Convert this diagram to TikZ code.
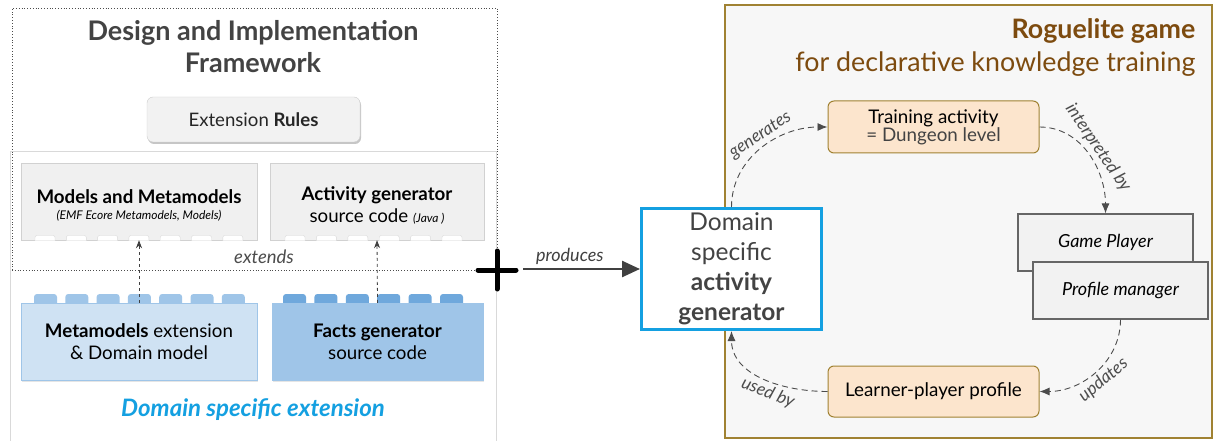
\documentclass[tikz,border=0pt]{standalone}
\usepackage{fontspec}
\setmainfont{Lato}
\usetikzlibrary{arrows.meta,shadows}

\definecolor{dsblue}{RGB}{20,160,225}
\definecolor{lightblue}{RGB}{207,226,243}
\definecolor{midblue}{RGB}{159,197,232}
\definecolor{darkblue}{RGB}{111,168,220}
\definecolor{peach}{RGB}{252,229,205}
\definecolor{olive}{RGB}{160,130,50}
\definecolor{rogue}{RGB}{125,75,15}
\definecolor{txtgray}{RGB}{67,67,67}

\begin{document}
\begin{tikzpicture}[
  graybrick/.style={draw=black!18, fill=black!6, minimum width=236pt,
    minimum height=77pt, align=center, inner sep=0pt},
  bluebrick/.style={draw=midblue, minimum width=236pt, minimum height=77pt,
    align=center, inner sep=0pt, drop shadow={opacity=0.2,shadow xshift=1pt,shadow yshift=-1.5pt}},
  notch/.style={fill=white, draw=black!15, rounded corners=2pt},
  stud/.style={rounded corners=3pt},
  gamebox/.style={draw=olive, fill=peach, rounded corners=6pt, line width=1pt,
    minimum width=211pt, minimum height=52pt, align=center,
    font=\fontsize{18.8}{21}\selectfont},
  partbox/.style={draw=black!60, fill=black!5, line width=1.2pt,
    minimum width=175pt, minimum height=57pt, font=\fontsize{18}{21}\selectfont\itshape},
  flow/.style={draw=black!70, line width=0.9pt, dash pattern=on 6pt off 4pt,
    -{Latex[length=10pt,width=8pt]}},
  flowlabel/.style={sloped, text=black!70, font=\fontsize{17.5}{20}\selectfont\itshape}
]
  \useasboundingbox (0pt,0pt) rectangle (1213pt,-441pt);

  %% framework panels
  \draw[black!15, fill=white] (10pt,-151pt) rectangle (496pt,-445pt);
  \draw[dotted, thick, black!70] (12pt,-270pt) -- (12pt,-8pt) -- (497pt,-8pt) -- (497pt,-270pt);
  \draw[dotted, thick, black!70] (12pt,-270pt) -- (497pt,-270pt);

  \node[text=txtgray, align=center, font=\fontsize{27}{32}\selectfont\bfseries]
    (title) at (253pt,-47pt) {Design and Implementation\\Framework};

  \node[draw=black!20, fill=black!5, rounded corners=6pt, minimum width=213pt,
    minimum height=45pt, drop shadow={opacity=0.45,shadow xshift=1pt,shadow yshift=-2pt},
    font=\fontsize{18.6}{21}\selectfont, text=black!85]
    (rules) at (253.5pt,-119.5pt) {Extension \textbf{Rules}};

  %% framework bricks
  \node[graybrick] (mm) at (139pt,-201.5pt) {};
  \node[align=center, font=\fontsize{18.7}{22}\selectfont] (mmtext) at (139pt,-205pt)
    {\textbf{Models and Metamodels}\\[-6pt]
     {\fontsize{12}{14}\selectfont\itshape (EMF Ecore Metamodels, Models)}};
  \node[graybrick, minimum width=214pt] (act) at (377pt,-201.5pt) {};
  \node[align=center, font=\fontsize{18.7}{22}\selectfont] (acttext) at (377pt,-205pt)
    {\textbf{Activity generator}\\source code {\fontsize{12}{14}\selectfont\itshape (Java )}};
  \foreach \x in {35,66.3,97.6,128.9,160.2,191.5,222.8}
    \draw[notch] (\x pt,-240.5pt) -- ++(0pt,5pt) -- ++(20pt,0pt) -- ++(0pt,-5pt);
  \foreach \x in {285,316.4,347.8,379.2,410.6,442}
    \draw[notch] (\x pt,-240.5pt) -- ++(0pt,5pt) -- ++(20pt,0pt) -- ++(0pt,-5pt);

  %% extension bricks
  \foreach \x in {34,65.3,96.6,127.9,159.2,190.5,221.8}
    \fill[stud, midblue] (\x pt,-294pt) rectangle ++(23pt,-14pt);
  \foreach \x in {283,314.4,345.8,377.2,408.6,440}
    \fill[stud, darkblue] (\x pt,-294pt) rectangle ++(23pt,-14pt);
  \node[bluebrick, fill=lightblue] (mme) at (139pt,-341.5pt) {};
  \node[bluebrick, fill=midblue, minimum width=211pt] (fg) at (377.5pt,-341.5pt) {};
  \node[align=center, font=\fontsize{18.7}{22}\selectfont] at (mme)
    {\textbf{Metamodels} extension\\\& Domain model};
  \node[align=center, font=\fontsize{18.7}{22}\selectfont] at (fg)
    {\textbf{Facts generator}\\source code};

  \draw[dashed, black!75, thick, -{Stealth[length=8pt,width=6pt]}] (mme.north) -- (mm.south);
  \draw[dashed, black!75, thick, -{Stealth[length=8pt,width=6pt]}] (fg.north) -- (act.south);
  \node[text=black!70, font=\fontsize{18.5}{21}\selectfont\itshape] (ext) at (264pt,-257pt) {extends};

  \node[text=dsblue, font=\fontsize{24}{28}\selectfont\bfseries\itshape]
    (dse) at (253pt,-410pt) {Domain specific extension};

  %% plus and produces
  \coordinate (plus) at (497pt,-270pt);
  \draw[line width=5pt, line cap=round] (478pt,-270pt) -- (516pt,-270pt);
  \draw[line width=5pt, line cap=round] (497pt,-251pt) -- (497pt,-289pt);
  \coordinate (prod) at (523pt,-269pt);

  %% roguelite panel
  \draw[olive, line width=1.5pt, fill=black!3] (725pt,-5pt) rectangle (1212pt,-438pt);
  \node[anchor=east, align=right, text=rogue, font=\fontsize{26.8}{33}\selectfont]
    (rogue) at (1199pt,-47.5pt) {\textbf{Roguelite game}\\for declarative knowledge training};

  \node[draw=dsblue, line width=3pt, fill=white, minimum width=180pt, minimum height=121pt,
    align=center, text=txtgray, font=\fontsize{24.5}{30}\selectfont]
    (dsag) at (731.5pt,-269pt) {Domain\\specific\\\textbf{activity}\\\textbf{generator}};
  \draw[black!75, line width=2.5pt, -{Triangle[length=18pt,width=16pt]}]
    (prod) -- node[pos=0.4, above, text=black!75, font=\fontsize{18}{21}\selectfont\itshape]
    {produces} (dsag.west);

  \node[gamebox] (ta) at (933.5pt,-127pt)
    {Training activity\\[-3pt]{\color{txtgray}= Dungeon level}};
  \node[partbox] (gp) at (1105.5pt,-242.5pt) {Game Player};
  \node[partbox] (pm) at (1120.5pt,-290.5pt) {Profile manager};
  \node[gamebox, minimum height=51pt] (lp) at (933.5pt,-391.5pt) {Learner-player profile};

  %% cycle
  \draw[flow] (dsag.north) to[out=90, in=180]
    node[flowlabel, above, pos=0.55] {generates} (ta.west);
  \draw[flow] (ta.east) to[out=0, in=90]
    node[flowlabel, above, pos=0.5] {interpreted by} (gp.north);
  \draw[flow] (pm.south) to[out=-90, in=0]
    node[flowlabel, below, pos=0.5] {updates} (lp.east);
  \draw[flow] (lp.west) to[out=180, in=-90]
    node[flowlabel, below, pos=0.42] {used by} (dsag.south);

\end{tikzpicture}
\end{document}
